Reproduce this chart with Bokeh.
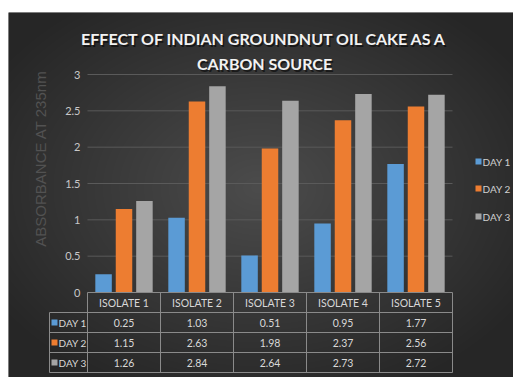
import numpy as np
from bokeh.plotting import figure
from bokeh.models import Range1d, Spacer
from bokeh.layouts import column, row
from bokeh.core.properties import value
from bokeh.embed import file_html
from bokeh.resources import INLINE

# ---------------- data ----------------
categories = ["ISOLATE 1", "ISOLATE 2", "ISOLATE 3", "ISOLATE 4", "ISOLATE 5"]
series_names = ["DAY 1", "DAY 2", "DAY 3"]
day1 = [0.25, 1.03, 0.51, 0.95, 1.77]
day2 = [1.15, 2.63, 1.98, 2.37, 2.56]
day3 = [1.26, 2.84, 2.64, 2.73, 2.72]
y_ticks = [0, 0.5, 1, 1.5, 2, 2.5, 3]
y_tick_labels = ["0", "0.5", "1", "1.5", "2", "2.5", "3"]
title_lines = ["EFFECT OF INDIAN GROUNDNUT OIL CAKE AS A", "CARBON SOURCE"]
y_title = "ABSORBANCE AT 235nm"

series = [day1, day2, day3]
colors = ["#5b9bd5", "#ed7d31", "#a5a5a5"]

# ---------------- layout constants (pixels in figure) ----------------
W, H = 505, 365
X0, CW = 79, 73.0          # x pixel of category 0 left edge, category width
Y0, YPU = 280, 218 / 3.0   # y pixel of value 0, pixels per unit

def xd(px):
    return (px - X0) / CW

def yd(py):
    return (Y0 - py) / YPU

FONT = value("Lato")

p = figure(width=W, height=H, x_range=Range1d(xd(0), xd(W)), y_range=Range1d(yd(H), yd(0)),
           output_backend="svg", toolbar_location=None, min_border=0,
           x_axis_location=None, y_axis_location=None)
p.grid.visible = False
p.outline_line_color = None
p.background_fill_color = "#383838"
p.border_fill_color = "#383838"

# radial background gradient
ys, xs = np.mgrid[0:H, 0:W]
d = np.sqrt(((xs - 250) / (W * 0.62)) ** 2 + ((ys - 175) / (H * 0.62)) ** 2)
d = np.clip(d, 0, 1)
c = (76 - (76 - 38) * d).astype(np.uint32)
img = (c | (c << 8) | (c << 16) | (255 << 24)).astype(np.uint32)[::-1]
p.image_rgba(image=[img], x=xd(0), y=yd(H), dw=xd(W) - xd(0), dh=yd(0) - yd(H))

n = len(categories)
# gridlines
grid_vals = [t for t in y_ticks if t > 0]
p.segment(x0=[0] * len(grid_vals), x1=[xd(444)] * len(grid_vals), y0=grid_vals, y1=grid_vals,
          line_color="#5a5a5a", line_width=1)

# bars
offsets = [-0.28, 0.0, 0.28]
bw = 0.226
for vals, off, col in zip(series, offsets, colors):
    p.vbar(x=[i + 0.5 + off for i in range(n)], top=vals, bottom=0, width=bw,
           fill_color=col, line_color=None)

# y tick labels
p.text(x=[xd(72)] * len(y_ticks), y=y_ticks, text=y_tick_labels, text_align="right",
       text_baseline="middle", text_font=FONT, text_font_size="11px", text_color="#c8c8c8")

# y axis title
p.text(x=[xd(32)], y=[yd(146)], text=[y_title], angle=np.pi / 2, text_align="center",
       text_baseline="middle", text_font=value("Liberation Sans"), text_font_size="15px",
       text_color="#525252")

# title with shadow
ty = [yd(26), yd(51)]
p.text(x=[xd(257.5)] * 2, y=[v - 1.5 / YPU for v in ty], text=title_lines, text_align="center",
       text_baseline="middle", text_font=FONT, text_font_style="bold", text_font_size="16px",
       text_color="#000000", text_alpha=0.55)
p.text(x=[xd(256)] * 2, y=ty, text=title_lines, text_align="center",
       text_baseline="middle", text_font=FONT, text_font_style="bold", text_font_size="16px",
       text_color="#f2f2f2")

# right legend
leg_y = [yd(149), yd(176), yd(204)]
p.rect(x=[xd(470)] * 3, y=leg_y, width=6, height=6, width_units="screen", height_units="screen",
       fill_color=colors, line_color=None)
p.text(x=[xd(474)] * 3, y=leg_y, text=series_names, text_align="left", text_baseline="middle",
       text_font=FONT, text_font_size="10px", text_color="#d0d0d0")

# data table
row_h = 20 / YPU
leg_left = xd(41)
rows_y = [-(k + 1) * row_h for k in range(4)]   # bottoms of header, day1..day3
tcol = "#8a8a8a"
# horizontal lines
p.segment(x0=[0], x1=[n], y0=[0], y1=[0], line_color=tcol, line_width=1)
p.segment(x0=[leg_left] * 4, x1=[n] * 4, y0=rows_y, y1=rows_y, line_color=tcol, line_width=1)
# vertical lines
p.segment(x0=list(range(n + 1)), x1=list(range(n + 1)), y0=[0] * (n + 1), y1=[rows_y[-1]] * (n + 1),
          line_color=tcol, line_width=1)
p.segment(x0=[leg_left], x1=[leg_left], y0=[rows_y[0]], y1=[rows_y[-1]], line_color=tcol, line_width=1)

# header labels
p.text(x=[i + 0.5 for i in range(n)], y=[-0.5 * row_h] * n, text=categories, text_align="center",
       text_baseline="middle", text_font=FONT, text_font_size="10.5px", text_color="#d8d8d8")
# values
for k, vals in enumerate(series):
    yc = -(k + 1.5) * row_h
    p.text(x=[i + 0.5 for i in range(n)], y=[yc] * n, text=["%.2f" % v for v in vals],
           text_align="center", text_baseline="middle", text_font=FONT, text_font_size="10.5px",
           text_color="#d8d8d8")
# table legend keys
key_y = [-(k + 1.5) * row_h for k in range(3)]
p.rect(x=[xd(46)] * 3, y=key_y, width=6, height=6, width_units="screen", height_units="screen",
       fill_color=colors, line_color=None)
p.text(x=[xd(50)] * 3, y=key_y, text=series_names, text_align="left", text_baseline="middle",
       text_font=FONT, text_font_size="10px", text_color="#d8d8d8")

layout = column(Spacer(width=513, height=12), row(Spacer(width=8, height=H), p))
open("out.html", "w").write(file_html(layout, INLINE))
